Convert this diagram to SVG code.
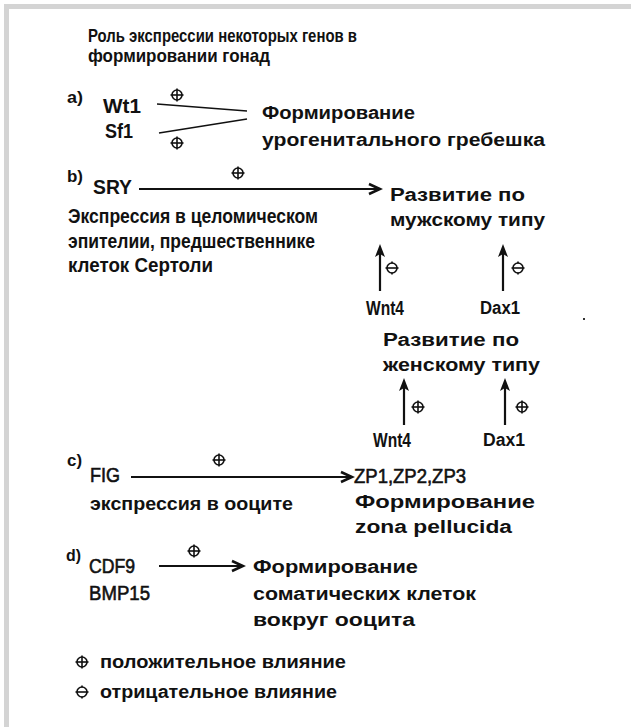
<svg xmlns="http://www.w3.org/2000/svg" width="631" height="727" viewBox="0 0 631 727">
<style>
text{font-family:"Liberation Sans",Arial,sans-serif;font-weight:bold;font-size:18px;fill:#111;}
.c{font-size:20px;}
.tt{font-size:19px;}
.r{font-size:20px;font-weight:normal;stroke:#111;stroke-width:0.6;}
.lb{font-size:16px;}
.ln{stroke:#111;stroke-width:2.2;fill:none;}
.thin{stroke:#111;stroke-width:1.5;fill:none;}
.sym{stroke:#111;stroke-width:1.6;fill:none;}
.hd{fill:#111;stroke:none;}
</style>
<defs>
<g id="plus"><circle cx="0" cy="0" r="5" class="sym"/><line x1="-6.5" y1="0" x2="6.5" y2="0" class="sym"/><line x1="0" y1="-6.5" x2="0" y2="6.5" class="sym"/></g>
<g id="minus"><circle cx="0" cy="0" r="5" class="sym"/><line x1="-6.5" y1="0" x2="6.5" y2="0" class="sym"/><line x1="0" y1="-6.5" x2="0" y2="-4.5" class="sym"/><line x1="0" y1="4.5" x2="0" y2="6.5" class="sym"/></g>
<marker id="ah" markerWidth="16" markerHeight="14" refX="13" refY="7" orient="auto" markerUnits="userSpaceOnUse"><path d="M2,2 L13,7 L2,12" fill="none" stroke="#111" stroke-width="2.6"/></marker>
<path id="up" d="M0,0 L5,13 L0,10 L-5,13 Z"/>
</defs>
<rect x="0" y="0" width="631" height="727" fill="#fff"/>
<rect x="4" y="4" width="627" height="5" fill="#d4d4d4"/>
<rect x="4" y="4" width="5" height="723" fill="#d4d4d4"/>
<rect x="583" y="318" width="2" height="2" fill="#333"/>

<g id="title">
<text class="tt" x="88" y="42" textLength="269" lengthAdjust="spacingAndGlyphs">Роль экспрессии некоторых генов в</text>
<text class="tt" x="88" y="62" textLength="182" lengthAdjust="spacingAndGlyphs">формировании гонад</text>
</g>

<g id="a">
<text x="67" y="103" class="lb" textLength="16" lengthAdjust="spacingAndGlyphs">a)</text>
<text class="c" x="103" y="113" textLength="38" lengthAdjust="spacingAndGlyphs">Wt1</text>
<text class="c" x="105" y="138" textLength="28" lengthAdjust="spacingAndGlyphs">Sf1</text>
<text x="262" y="119" textLength="153" lengthAdjust="spacingAndGlyphs">Формирование</text>
<text x="262" y="146" textLength="283" lengthAdjust="spacingAndGlyphs">урогенитального гребешка</text>
</g>

<g id="b">
<text x="67" y="182" class="lb" textLength="16" lengthAdjust="spacingAndGlyphs">b)</text>
<text class="c" x="93" y="194" textLength="39" lengthAdjust="spacingAndGlyphs">SRY</text>
<text class="c" x="68" y="223" textLength="250" lengthAdjust="spacingAndGlyphs">Экспрессия в целомическом</text>
<text class="c" x="68" y="248" textLength="247" lengthAdjust="spacingAndGlyphs">эпителии, предшественнике</text>
<text class="c" x="68" y="272" textLength="145" lengthAdjust="spacingAndGlyphs">клеток Сертоли</text>
<text x="390" y="201" textLength="135" lengthAdjust="spacingAndGlyphs">Развитие по</text>
<text x="390" y="226" textLength="155" lengthAdjust="spacingAndGlyphs">мужскому типу</text>
<text class="c" x="366" y="315" textLength="38" lengthAdjust="spacingAndGlyphs">Wnt4</text>
<text x="480" y="314" textLength="40" lengthAdjust="spacingAndGlyphs">Dax1</text>
<text x="383" y="346" textLength="136" lengthAdjust="spacingAndGlyphs">Развитие по</text>
<text x="383" y="371" textLength="157" lengthAdjust="spacingAndGlyphs">женскому типу</text>
<text class="c" x="373" y="447" textLength="38" lengthAdjust="spacingAndGlyphs">Wnt4</text>
<text x="483" y="446" textLength="42" lengthAdjust="spacingAndGlyphs">Dax1</text>
</g>

<g id="c">
<text x="67" y="466" class="lb" textLength="15" lengthAdjust="spacingAndGlyphs">c)</text>
<text class="r" x="90" y="482" textLength="30" lengthAdjust="spacingAndGlyphs">FIG</text>
<text x="90" y="510" textLength="203" lengthAdjust="spacingAndGlyphs">экспрессия в ооците</text>
<text class="r" x="354" y="483" textLength="112" lengthAdjust="spacingAndGlyphs">ZP1,ZP2,ZP3</text>
<text x="355" y="508" textLength="180" lengthAdjust="spacingAndGlyphs">Формирование</text>
<text x="355" y="533" textLength="157" lengthAdjust="spacingAndGlyphs">zona pellucida</text>
</g>

<g id="d">
<text x="66" y="561" class="lb" textLength="15" lengthAdjust="spacingAndGlyphs">d)</text>
<text class="r" x="89" y="573" textLength="46" lengthAdjust="spacingAndGlyphs">CDF9</text>
<text class="r" x="89" y="600" textLength="61" lengthAdjust="spacingAndGlyphs">BMP15</text>
<text x="253" y="573" textLength="165" lengthAdjust="spacingAndGlyphs">Формирование</text>
<text x="253" y="600" textLength="223" lengthAdjust="spacingAndGlyphs">соматических клеток</text>
<text x="253" y="626" textLength="162" lengthAdjust="spacingAndGlyphs">вокруг ооцита</text>
</g>

<g id="legend">
<use href="#plus" x="82" y="662"/>
<text x="100" y="668" textLength="246" lengthAdjust="spacingAndGlyphs">положительное влияние</text>
<use href="#minus" x="82" y="692"/>
<text x="100" y="698" textLength="237" lengthAdjust="spacingAndGlyphs">отрицательное влияние</text>
</g>

<g id="connectors">
<path class="thin" d="M157,104 L247,111"/>
<path class="thin" d="M159,133 L247,119"/>
<use href="#plus" x="177" y="95"/>
<use href="#plus" x="177" y="143"/>

<line class="ln" x1="139" y1="189" x2="380" y2="189" marker-end="url(#ah)"/>
<use href="#plus" x="238" y="173"/>

<line class="ln" x1="380" y1="291" x2="380" y2="252"/>
<use href="#up" class="hd" x="380" y="244"/>
<use href="#minus" x="392" y="268"/>
<line class="ln" x1="503" y1="291" x2="503" y2="252"/>
<use href="#up" class="hd" x="503" y="244"/>
<use href="#minus" x="518" y="268"/>

<line class="ln" x1="404" y1="425" x2="404" y2="386"/>
<use href="#up" class="hd" x="404" y="378"/>
<use href="#plus" x="418" y="407"/>
<line class="ln" x1="505" y1="425" x2="505" y2="386"/>
<use href="#up" class="hd" x="505" y="378"/>
<use href="#plus" x="522" y="407"/>

<line class="ln" x1="131" y1="477" x2="352" y2="477" marker-end="url(#ah)"/>
<use href="#plus" x="219" y="460"/>

<line class="ln" x1="159" y1="566" x2="243" y2="566" marker-end="url(#ah)"/>
<use href="#plus" x="194" y="551"/>
</g>
</svg>
